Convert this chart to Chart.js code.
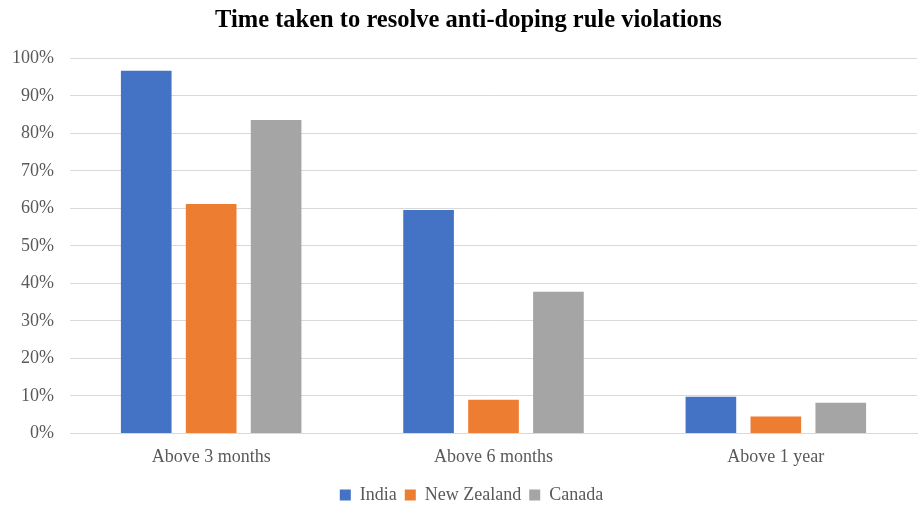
<!DOCTYPE html>
<html>
<head>
<meta charset="utf-8">
<script src="https://cdn.jsdelivr.net/npm/chart.js@4/dist/chart.umd.min.js"></script>
<style>
  html, body { margin: 0; padding: 0; background: #ffffff; }
  #wrap { width: 920px; height: 507px; }
</style>
</head>
<body>
<div id="wrap"><canvas id="chart" width="920" height="507"></canvas></div>
<script>
// Share of cases still unresolved after each period
const categories = ['Above 3 months', 'Above 6 months', 'Above 1 year'];
const india = [96.7, 59.6, 9.8];
const newZealand = [61.2, 9.0, 4.5];
const canada = [83.6, 37.8, 8.2];
const yTicks = [0, 10, 20, 30, 40, 50, 60, 70, 80, 90, 100];

const serif = "'Liberation Serif', 'Times New Roman', serif";
const tickGray = '#595959';

// Center the title and legend a little further right, over the plot area
const centerBlocks = {
  id: 'centerBlocks',
  afterLayout(chart) {
    if (chart.titleBlock) { chart.titleBlock.left += 10; chart.titleBlock.right += 10; }
    if (chart.legend) { chart.legend.left += 13; chart.legend.right += 13; }
  }
};

new Chart(document.getElementById('chart'), {
  type: 'bar',
  data: {
    labels: categories,
    datasets: [
      { label: 'India', data: india, backgroundColor: '#4472C4' },
      { label: 'New Zealand', data: newZealand, backgroundColor: '#ED7D31' },
      { label: 'Canada', data: canada, backgroundColor: '#A5A5A5' }
    ]
  },
  plugins: [centerBlocks],
  options: {
    responsive: false,
    animation: false,
    layout: { padding: { left: 0, right: 3, top: 0, bottom: -7 } },
    datasets: {
      bar: { categoryPercentage: 0.69, barPercentage: 0.78 }
    },
    plugins: {
      title: {
        display: true,
        text: 'Time taken to resolve anti-doping rule violations',
        color: '#000000',
        font: { family: serif, size: 24.5, weight: 'bold' },
        padding: { top: 6, bottom: 23 }
      },
      legend: {
        position: 'bottom',
        labels: {
          color: tickGray,
          font: { family: serif, size: 18 },
          boxWidth: 11,
          boxHeight: 11,
          padding: 8
        }
      },
      tooltip: { enabled: false }
    },
    scales: {
      x: {
        grid: { display: false },
        border: { display: true, color: '#D9D9D9', width: 1 },
        afterFit: (axis) => { axis.height += 5; },
        ticks: { color: tickGray, font: { family: serif, size: 18 }, padding: 5 }
      },
      y: {
        min: 0,
        max: 100,
        afterBuildTicks: (axis) => { axis.ticks = yTicks.map(v => ({ value: v })); },
        afterFit: (axis) => { axis.width = 70; },
        grid: { color: '#D9D9D9', lineWidth: 1, drawTicks: false },
        border: { display: false },
        ticks: {
          color: tickGray,
          font: { family: serif, size: 18 },
          padding: 16,
          callback: (v) => v + '%'
        }
      }
    }
  }
});
</script>
</body>
</html>
